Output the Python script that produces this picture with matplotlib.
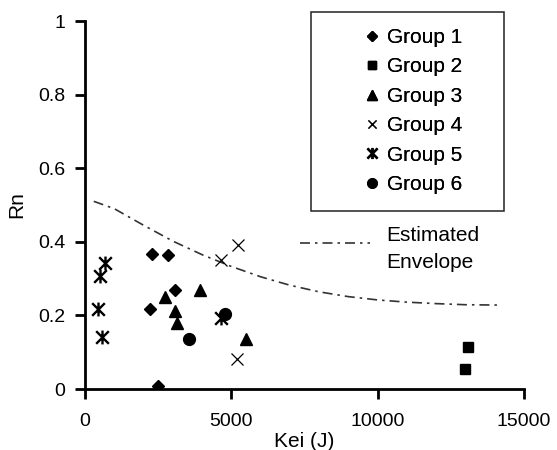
import matplotlib.pyplot as plt
from matplotlib.lines import Line2D
from matplotlib.patches import Rectangle
from matplotlib.path import Path

plt.rcParams['font.family'] = ['Liberation Sans', 'DejaVu Sans']

# values
g1_x = [2300, 2830, 3090, 2210, 2510]
g1_y = [0.368, 0.363, 0.268, 0.217, 0.009]
g2_x = [13080, 12990]
g2_y = [0.115, 0.054]
g3_x = [2720, 3940, 3080, 3130, 5510]
g3_y = [0.250, 0.270, 0.213, 0.180, 0.135]
g4_x = [5240, 4640, 5200]
g4_y = [0.390, 0.350, 0.081]
g5_x = [680, 510, 450, 570, 4650]
g5_y = [0.342, 0.306, 0.217, 0.140, 0.193]
g6_x = [3550, 4780]
g6_y = [0.136, 0.204]

env_x = [300, 1000, 2000, 3000, 4000, 5000, 6000, 7000, 8000, 9000,
         10000, 11000, 12000, 13000, 14200]
env_y = [0.510, 0.490, 0.445, 0.402, 0.365, 0.333, 0.305, 0.282, 0.264, 0.251,
         0.242, 0.236, 0.232, 0.229, 0.228]

# excel style star marker: an x with a vertical stroke
star = Path([(-1, -1), (1, 1), (-1, 1), (1, -1), (0, -1.1), (0, 1.1)],
            [Path.MOVETO, Path.LINETO] * 3)

W, H = 557, 450
fig = plt.figure(figsize=(W / 100, H / 100), dpi=100)
ax = fig.add_axes([85 / W, 1 - 389 / H, 439 / W, 368 / H])

env_style = dict(color='#333333', lw=1.2, dashes=(6, 3, 1.5, 3))
ax.plot(env_x, env_y, **env_style)

k = dict(color='black', linestyle='none')
h1, = ax.plot(g1_x, g1_y, marker='D', ms=6.5, label='Group 1', **k)
h2, = ax.plot(g2_x, g2_y, marker='s', ms=6.5, label='Group 2', **k)
h3, = ax.plot(g3_x, g3_y, marker='^', ms=8.5, label='Group 3', **k)
h4, = ax.plot(g4_x, g4_y, marker='x', ms=8, mew=0.9, label='Group 4', **k)
h5, = ax.plot(g5_x, g5_y, marker=star, ms=10, mew=1.7, label='Group 5', **k)
h6, = ax.plot(g6_x, g6_y, marker='o', ms=8.5, label='Group 6', **k)

ax.set_xlim(0, 15000)
ax.set_ylim(0, 1)
ax.set_xticks([0, 5000, 10000, 15000])
ax.set_yticks([0, 0.2, 0.4, 0.6, 0.8, 1])
ax.set_yticklabels(['0', '0.2', '0.4', '0.6', '0.8', '1'])
ax.set_xlabel('Kei (J)', fontsize=15, labelpad=2)
ax.set_ylabel('Rn', fontsize=15, labelpad=9)
ax.tick_params(labelsize=14, width=2, length=7, direction='out')
ax.tick_params(axis='x', pad=10)
ax.tick_params(axis='y', pad=7)
for s in ['top', 'right']:
    ax.spines[s].set_visible(False)
for s in ['left', 'bottom']:
    ax.spines[s].set_linewidth(2)

# legend box drawn by hand, entries without frame
fig.add_artist(Rectangle((311 / W, 1 - 211 / H), 193 / W, 199 / H,
                         transform=fig.transFigure, fill=False,
                         edgecolor='#222222', lw=1.1))
leg = ax.legend(handles=[h1, h2, h3, h4, h5, h6], loc='upper left',
                bbox_to_anchor=(362 / W, 1 - 28 / H), bbox_transform=fig.transFigure,
                fontsize=15, frameon=False,
                handlelength=1.0, handletextpad=0.2, labelspacing=0.5,
                borderpad=0, borderaxespad=0, markerscale=0.8)
ax.add_artist(leg)

fig.add_artist(Line2D([300 / W, 370 / W], [1 - 243 / H] * 2,
                      transform=fig.transFigure, **env_style))
fig.text(386 / W, 1 - 235 / H, 'Estimated', fontsize=15, va='center', ha='left')
fig.text(386 / W, 1 - 263 / H, 'Envelope', fontsize=15, va='center', ha='left')

fig.savefig('out.png', dpi=100)
